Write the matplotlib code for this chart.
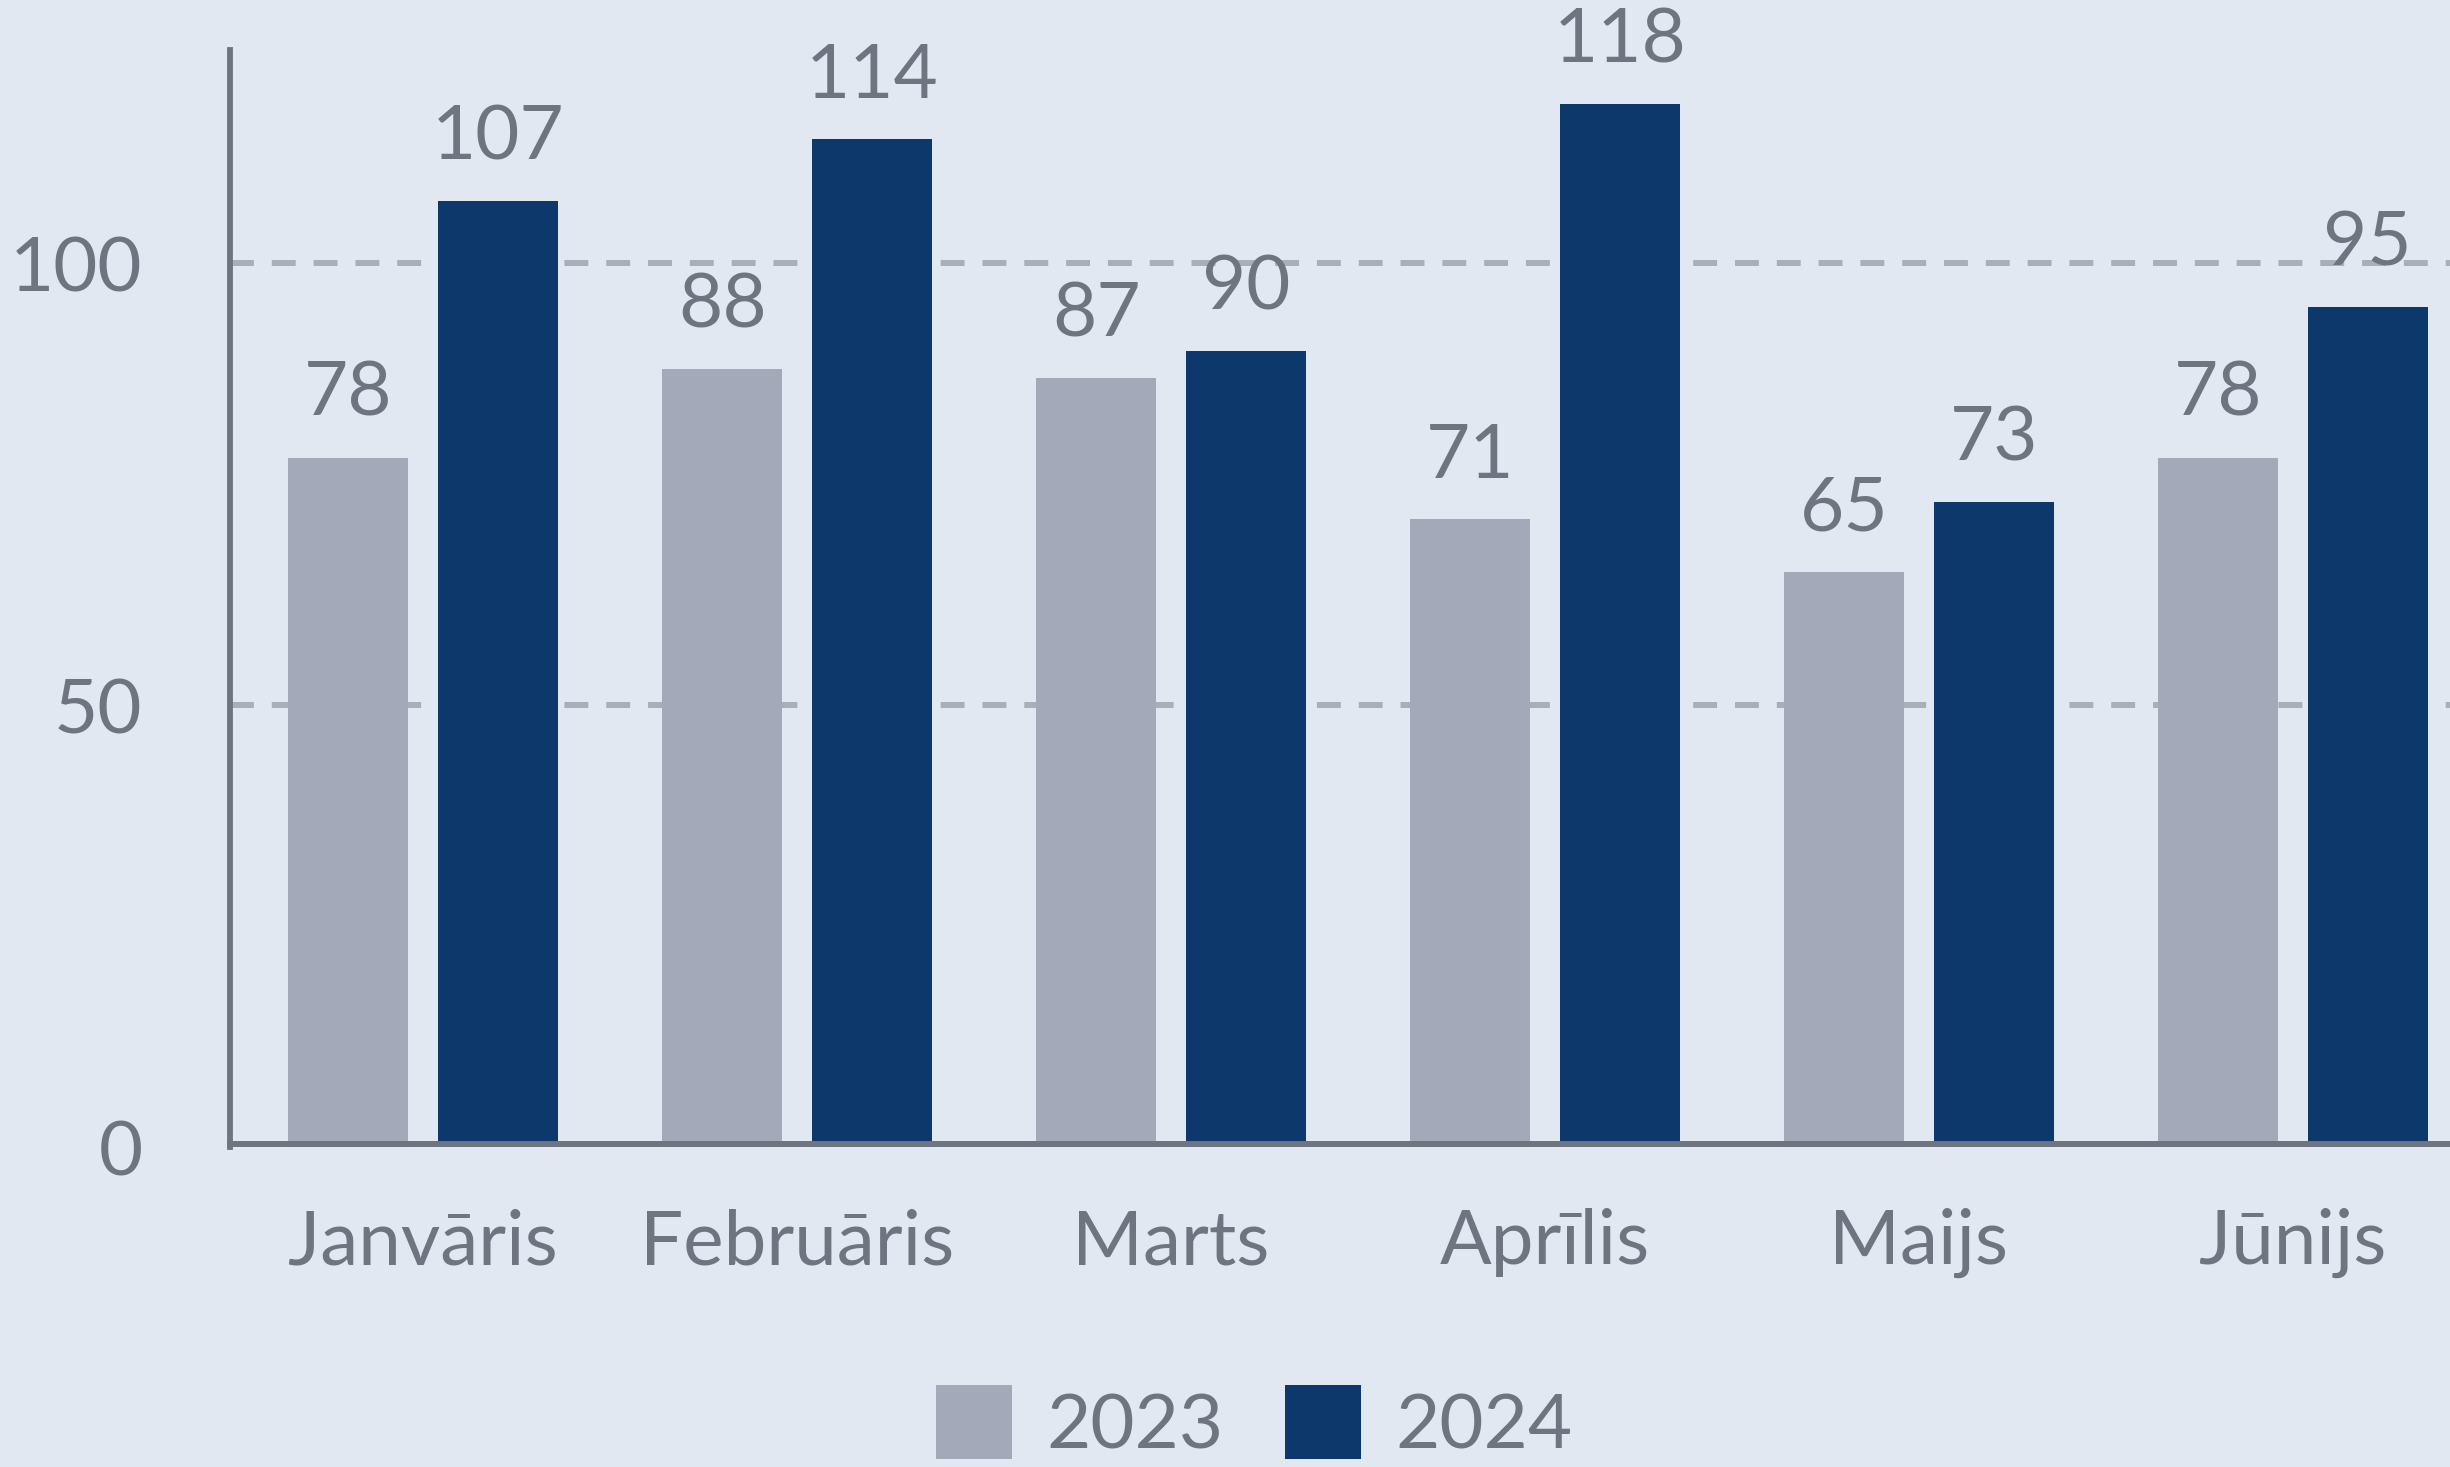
#------------------------------------------------------------
# plot.py
# grouped bars, 2023 vs 2024 per month (Jan - Jun)
#------------------------------------------------------------

import matplotlib
matplotlib.use('Agg')
import matplotlib.pyplot as plt
import matplotlib.patches as mpatches
from matplotlib.legend_handler import HandlerPatch
import numpy as np

# data
months      = ['Janvāris', 'Februāris', 'Marts', 'Aprīlis', 'Maijs', 'Jūnijs']
series_2023 = [78, 88, 87, 71, 65, 78]
series_2024 = [107, 114, 90, 118, 73, 95]
series_names = ['2023', '2024']
y_ticks     = [0, 50, 100]

# look
BG_COLOR    = '#E1E8F1'
GREY_BAR    = '#A3A9B8'
NAVY_BAR    = '#0C386C'
TEXT_COLOR  = '#6E7581'
GRID_COLOR  = '#A9AFB8'
FONT_SIZE   = 55


def rounded_patch(legend, orig_handle, xdescent, ydescent, width, height, fontsize):
    # little rounded squares like the original legend
    return mpatches.FancyBboxPatch((-xdescent, -ydescent), width, height,
                                   boxstyle='round,pad=0,rounding_size=5')


def graph_results():

    plt.rcParams['font.family'] = ['Lato', 'DejaVu Sans']

    fig = plt.figure(figsize=(24.5, 14.67), dpi=100)
    fig.patch.set_facecolor(BG_COLOR)

    ax1 = fig.add_axes([230/2450, 1 - 1147/1467, 1 - 230/2450, (1147 - 50)/1467])
    ax1.set_facecolor(BG_COLOR)

    x = np.arange(len(months))
    bar_w = 0.32
    bars1 = ax1.bar(x - 0.2, series_2023, width=bar_w, color=GREY_BAR, zorder=2, label=series_names[0])
    bars2 = ax1.bar(x + 0.2, series_2024, width=bar_w, color=NAVY_BAR, zorder=2, label=series_names[1])

    # value labels above every bar
    for bars, vals in ((bars1, series_2023), (bars2, series_2024)):
        for b, v in zip(bars, vals):
            ax1.annotate(str(v), (b.get_x() + b.get_width()/2, v), xytext=(0, 30),
                         textcoords='offset points', ha='center', va='baseline',
                         fontsize=FONT_SIZE, color=TEXT_COLOR, zorder=4)

    # dashed guides at 50 and 100 only
    for yv in y_ticks[1:]:
        ax1.axhline(yv, color=GRID_COLOR, lw=4.3, linestyle=(0, (4.0, 3.0)), zorder=1)

    ax1.set_xlim(-0.516, 5.42)
    ax1.set_ylim(0, 124.1)
    ax1.set_yticks(y_ticks)
    ax1.set_xticks(x)
    ax1.set_xticklabels(months)

    ax1.tick_params(axis='y', length=0, pad=63, labelsize=FONT_SIZE, labelcolor=TEXT_COLOR)
    ax1.tick_params(axis='x', length=0, pad=46, labelsize=FONT_SIZE, labelcolor=TEXT_COLOR)

    for side in ('top', 'right'):
        ax1.spines[side].set_visible(False)
    ax1.spines['left'].set_color(TEXT_COLOR)
    ax1.spines['left'].set_linewidth(4.2)
    ax1.spines['bottom'].set_color(TEXT_COLOR)
    ax1.spines['bottom'].set_linewidth(4.3)
    ax1.spines['bottom'].set_position(('outward', -2))

    fig.legend(handles=[bars1, bars2], labels=series_names,
               loc='lower center', bbox_to_anchor=(1254/2450, 0.004),
               ncol=2, frameon=False, fontsize=FONT_SIZE, labelcolor=TEXT_COLOR,
               handlelength=1.0, handleheight=1.1, handletextpad=0.45,
               columnspacing=0.8, borderpad=0, borderaxespad=0,
               handler_map={mpatches.Rectangle: HandlerPatch(patch_func=rounded_patch)})

    plt.savefig('out.png', dpi=100, facecolor=BG_COLOR)

    return


if __name__ == "__main__":

    graph_results()
